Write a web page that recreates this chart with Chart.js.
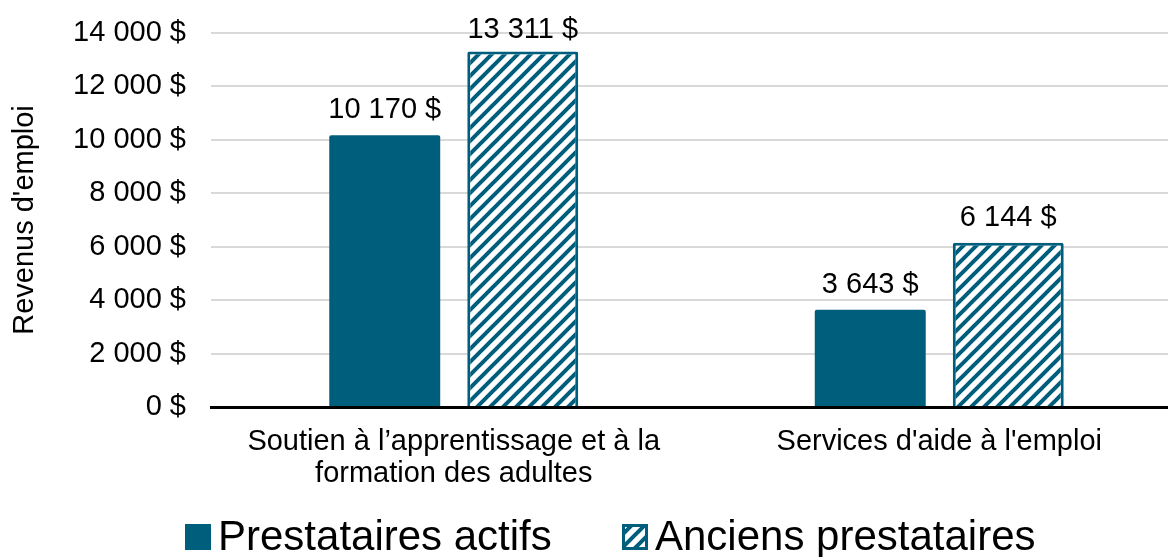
<!DOCTYPE html>
<html lang="fr">
<head>
<meta charset="utf-8">
<title>Revenus d'emploi</title>
<script src="https://cdn.jsdelivr.net/npm/chart.js@4.4.1/dist/chart.umd.min.js"></script>
<style>
  html, body { margin: 0; padding: 0; background: #fff; overflow: hidden; }
  #wrap { width: 1182px; height: 557px; }
</style>
</head>
<body>
<div id="wrap"><canvas id="revenusChart" width="1182" height="557"></canvas></div>
<script>
// data
const categories = [['Soutien à l’apprentissage et à la', 'formation des adultes'], "Services d'aide à l'emploi"];
const seriesNames = ['Prestataires actifs', 'Anciens prestataires'];
const actifs = [10170, 3643];
const anciens = [13311, 6144];
const yTicks = [0, 2000, 4000, 6000, 8000, 10000, 12000, 14000];

const TEAL = '#005e7d';
const FONT = '"Liberation Sans", Arial, sans-serif';

function dollars(v) {
  return String(v).replace(/\B(?=(\d{3})+(?!\d))/g, ' ') + ' $';
}

// diagonal stripes for the "anciens" series
function makeHatch(ctx, color) {
  const size = 13;
  const c = document.createElement('canvas');
  c.width = size;
  c.height = size;
  const g = c.getContext('2d');
  g.fillStyle = '#fff';
  g.fillRect(0, 0, size, size);
  g.strokeStyle = color;
  g.lineWidth = 4;
  g.beginPath();
  g.moveTo(-1, size + 1); g.lineTo(size + 1, -1);
  g.moveTo(-size / 2 - 1, size / 2 + 1); g.lineTo(size / 2 + 1, -size / 2 - 1);
  g.moveTo(size / 2 - 1, size * 1.5 + 1); g.lineTo(size * 1.5 + 1, size / 2 - 1);
  g.stroke();
  return ctx.createPattern(c, 'repeat');
}

// value labels above each bar
const valueLabels = {
  id: 'valueLabels',
  afterDatasetsDraw(chart) {
    const ctx = chart.ctx;
    ctx.save();
    ctx.font = '29px ' + FONT;
    ctx.fillStyle = '#000';
    ctx.textAlign = 'center';
    ctx.textBaseline = 'alphabetic';
    chart.data.datasets.forEach((ds, i) => {
      chart.getDatasetMeta(i).data.forEach((bar, j) => {
        const y = Math.max(bar.y - 17, chart.chartArea.top + 5);
        ctx.fillText(dollars(ds.data[j]), bar.x, y);
      });
    });
    ctx.restore();
  }
};

// legend drawn at the bottom like the original
const bottomLegend = {
  id: 'bottomLegend',
  afterDraw(chart) {
    const ctx = chart.ctx;
    const xs = [185, 622];
    const boxTop = 524, box = 26, baseline = 550;
    ctx.save();
    ctx.font = '42px ' + FONT;
    ctx.textBaseline = 'alphabetic';
    chart.data.datasets.forEach((ds, i) => {
      const x = xs[i];
      ctx.fillStyle = ds.backgroundColor;
      ctx.fillRect(x, boxTop, box, box);
      if (ds.borderWidth) {
        ctx.lineWidth = ds.borderWidth;
        ctx.strokeStyle = ds.borderColor;
        ctx.strokeRect(x + ds.borderWidth / 2, boxTop + ds.borderWidth / 2, box - ds.borderWidth, box - ds.borderWidth);
      }
      ctx.fillStyle = '#000';
      ctx.fillText(ds.label, x + 33, baseline);
    });
    ctx.restore();
  }
};

const canvas = document.getElementById('revenusChart');
const hatch = makeHatch(canvas.getContext('2d'), TEAL);

new Chart(canvas, {
  type: 'bar',
  data: {
    labels: categories,
    datasets: [
      { label: seriesNames[0], data: actifs, backgroundColor: TEAL, borderColor: TEAL, borderWidth: 0, borderRadius: 2 },
      { label: seriesNames[1], data: anciens, backgroundColor: hatch, borderColor: TEAL, borderWidth: 3, borderRadius: 2 },
    ],
  },
  options: {
    responsive: false,
    animation: false,
    layout: { padding: { top: 33, bottom: 70, left: 0, right: 0 } },
    datasets: { bar: { categoryPercentage: 0.5685, barPercentage: 0.804 } },
    plugins: {
      legend: { display: false },
      tooltip: { enabled: false },
    },
    scales: {
      x: {
        z: 1,
        grid: { display: false, drawTicks: false },
        border: { display: true, color: '#000', width: 3 },
        ticks: {
          color: '#000',
          font: { family: FONT, size: 29, lineHeight: 1.1 },
          padding: 19,
          maxRotation: 0,
          autoSkip: false,
        },
        afterFit: (s) => { s.height = 80; },
      },
      y: {
        min: yTicks[0],
        max: yTicks[yTicks.length - 1],
        afterBuildTicks: (s) => { s.ticks = yTicks.map((v) => ({ value: v })); },
        grid: {
          color: (c) => (c.tick && c.tick.value === 0 ? '#000' : '#d9d9d9'),
          lineWidth: 2,
          drawTicks: false,
        },
        border: { display: false },
        ticks: {
          color: '#000',
          font: { family: FONT, size: 29 },
          padding: 25,
          callback: (v) => dollars(v),
        },
        title: {
          display: true,
          text: "Revenus d'emploi",
          color: '#000',
          font: { family: FONT, size: 29 },
          padding: { top: 8, bottom: 0 },
        },
        afterFit: (s) => {
          s.width = 211;
          s.paddingTop = 0;
          s.paddingBottom = 0;
        },
      },
    },
  },
  plugins: [valueLabels, bottomLegend],
});
</script>
</body>
</html>
